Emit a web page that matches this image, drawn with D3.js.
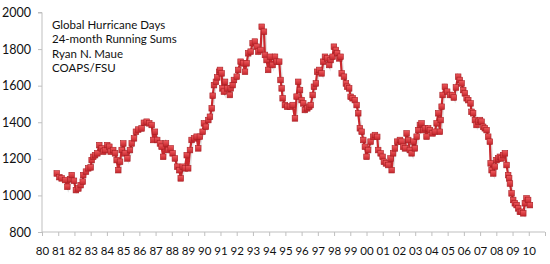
<!DOCTYPE html>
<html>
<head>
<meta charset="utf-8">
<script src="https://cdn.jsdelivr.net/npm/d3@7"></script>
<style>
  body { margin: 0; background: #fff; }
  svg { display: block; }
</style>
</head>
<body>
<div id="app"></div>
<script>
// decimal year of each point
const years = [
  1980.91, 1981.07, 1981.21, 1981.42, 1981.56, 1981.73, 1981.83, 1981.97, 1982.09, 1982.24,
  1982.38, 1982.51, 1982.54, 1982.71, 1982.85, 1983.00, 1983.06, 1983.16, 1983.27, 1983.41,
  1983.53, 1983.68, 1983.78, 1983.88, 1984.02, 1984.15, 1984.23, 1984.39, 1984.50, 1984.60,
  1984.70, 1984.81, 1984.91, 1985.01, 1985.11, 1985.26, 1985.42, 1985.53, 1985.67, 1985.79,
  1985.93, 1986.14, 1986.28, 1986.45, 1986.61, 1986.76, 1986.86, 1986.96, 1987.10, 1987.27,
  1987.37, 1987.47, 1987.64, 1987.78, 1987.93, 1988.05, 1988.19, 1988.34, 1988.46, 1988.55,
  1988.67, 1988.81, 1988.92, 1989.01, 1989.12, 1989.22, 1989.37, 1989.53, 1989.63, 1989.73,
  1989.90, 1989.98, 1990.10, 1990.25, 1990.35, 1990.46, 1990.52, 1990.60, 1990.72, 1990.80,
  1990.92, 1990.97, 1991.07, 1991.12, 1991.21, 1991.28, 1991.42, 1991.58, 1991.63, 1991.75,
  1991.83, 1992.00, 1992.09, 1992.24, 1992.40, 1992.51, 1992.61, 1992.71, 1992.86, 1992.98,
  1993.12, 1993.23, 1993.33, 1993.47, 1993.54, 1993.68, 1993.74, 1993.84, 1993.94, 1994.05,
  1994.21, 1994.36, 1994.46, 1994.62, 1994.70, 1994.77, 1994.83, 1994.97, 1995.11, 1995.28,
  1995.45, 1995.59, 1995.69, 1995.79, 1995.90, 1996.00, 1996.10, 1996.20, 1996.35, 1996.47,
  1996.56, 1996.68, 1996.76, 1996.88, 1996.96, 1997.09, 1997.23, 1997.33, 1997.44, 1997.58,
  1997.70, 1997.79, 1997.91, 1997.99, 1998.11, 1998.19, 1998.32, 1998.40, 1998.47, 1998.61,
  1998.73, 1998.81, 1998.93, 1999.02, 1999.14, 1999.28, 1999.39, 1999.49, 1999.59, 1999.70,
  1999.80, 1999.90, 2000.00, 2000.10, 2000.25, 2000.41, 2000.52, 2000.66, 2000.72, 2000.87,
  2000.99, 2001.07, 2001.20, 2001.34, 2001.48, 2001.55, 2001.64, 2001.75, 2001.89, 2002.06,
  2002.16, 2002.26, 2002.37, 2002.47, 2002.57, 2002.67, 2002.78, 2002.88, 2002.98, 2003.09,
  2003.19, 2003.29, 2003.39, 2003.49, 2003.60, 2003.70, 2003.80, 2003.91, 2004.07, 2004.21,
  2004.32, 2004.42, 2004.52, 2004.57, 2004.63, 2004.69, 2004.83, 2004.97, 2005.14, 2005.30,
  2005.38, 2005.51, 2005.65, 2005.75, 2005.86, 2005.96, 2006.06, 2006.17, 2006.27, 2006.41,
  2006.47, 2006.57, 2006.68, 2006.78, 2006.88, 2006.99, 2007.09, 2007.19, 2007.29, 2007.40,
  2007.50, 2007.60, 2007.65, 2007.71, 2007.81, 2007.91, 2008.01, 2008.11, 2008.22, 2008.32,
  2008.42, 2008.53, 2008.63, 2008.73, 2008.79, 2008.84, 2008.94, 2009.04, 2009.14, 2009.25,
  2009.35, 2009.45, 2009.56, 2009.66, 2009.76, 2009.86, 2009.96, 2010.07
];

// 24-month running sums of global hurricane days
const hurricaneDays = [
  1120, 1100, 1093, 1084, 1047, 1088, 1111, 1080, 1029, 1038,
  1056, 1075, 1111, 1130, 1148, 1153, 1193, 1211, 1220, 1230,
  1275, 1257, 1239, 1248, 1275, 1266, 1239, 1248, 1230, 1193,
  1138, 1184, 1248, 1284, 1230, 1202, 1248, 1284, 1312, 1348,
  1360, 1366, 1397, 1403, 1394, 1385, 1303, 1348, 1303, 1284,
  1266, 1211, 1284, 1248, 1257, 1230, 1202, 1157, 1138, 1093,
  1157, 1148, 1220, 1148, 1248, 1303, 1312, 1321, 1257, 1321,
  1348, 1394, 1375, 1412, 1430, 1476, 1545, 1603, 1621, 1645,
  1676, 1686, 1667, 1585, 1567, 1621, 1585, 1549, 1585, 1603,
  1631, 1649, 1686, 1731, 1722, 1676, 1722, 1777, 1786, 1832,
  1841, 1813, 1786, 1795, 1922, 1895, 1768, 1740, 1686, 1758,
  1713, 1758, 1731, 1731, 1631, 1585, 1531, 1494, 1485, 1485,
  1494, 1421, 1540, 1621, 1576, 1521, 1503, 1467, 1476, 1485,
  1494, 1549, 1594, 1612, 1676, 1686, 1667, 1731, 1758, 1749,
  1713, 1740, 1758, 1813, 1795, 1777, 1749, 1758, 1667, 1649,
  1612, 1594, 1585, 1539, 1531, 1521, 1494, 1449, 1367, 1348,
  1303, 1266, 1211, 1248, 1294, 1321, 1330, 1320, 1248, 1230,
  1211, 1184, 1175, 1166, 1202, 1138, 1230, 1257, 1294, 1303,
  1294, 1266, 1257, 1339, 1303, 1248, 1230, 1294, 1257, 1321,
  1357, 1385, 1394, 1357, 1367, 1321, 1367, 1357, 1339, 1348,
  1394, 1449, 1348, 1412, 1485, 1549, 1594, 1567, 1549, 1549,
  1535, 1590, 1649, 1631, 1612, 1576, 1558, 1531, 1521, 1503,
  1457, 1449, 1412, 1385, 1403, 1412, 1403, 1375, 1367, 1357,
  1321, 1294, 1175, 1138, 1120, 1157, 1193, 1202, 1211, 1202,
  1220, 1230, 1166, 1111, 1093, 1065, 1011, 975, 957, 947,
  929, 910, 910, 902, 957, 984, 975, 947
];

const yTicks = [800, 1000, 1200, 1400, 1600, 1800, 2000];
const xTicks = d3.range(1980, 2012);
const titleLines = ["Global Hurricane Days", "24-month Running Sums", "Ryan N. Maue", "COAPS/FSU"];

const width = 550,
  height = 264;

const svg = d3.select("div#app")
  .append("svg")
  .attr("width", width)
  .attr("height", height);

const x = d3.scaleLinear()
  .domain([1980, 2011])
  .range([42, 545]);

const y = d3.scaleLinear()
  .domain([800, 2000])
  .range([232, 12.5]);

const axisColor = "#bfbfbf";
const fontFamily = "Lato, 'Open Sans', sans-serif";

// y axis
const yAxis = svg.append("g")
  .attr("transform", "translate(42,0)")
  .call(d3.axisLeft(y).tickValues(yTicks).tickSize(4).tickPadding(7).tickFormat(d3.format("d")));
yAxis.select(".domain").attr("stroke", axisColor).attr("d", `M-4,${y(2000)}H0V${y(800)}`);
yAxis.selectAll(".tick line").attr("stroke", axisColor);
yAxis.selectAll(".tick text")
  .attr("fill", "#111")
  .style("font-family", fontFamily)
  .style("font-size", "12.5px");

// x axis
const xAxis = svg.append("g")
  .attr("transform", `translate(0,${y(800)})`)
  .call(d3.axisBottom(x)
    .tickValues(xTicks)
    .tickSize(4)
    .tickPadding(11)
    .tickFormat(d => d <= 2010 ? String(d % 100).padStart(2, "0") : ""));
xAxis.select(".domain").attr("stroke", axisColor).attr("d", `M${x(1980)},0H${x(2011)}`);
xAxis.selectAll(".tick line").attr("stroke", axisColor);
xAxis.selectAll(".tick text")
  .attr("fill", "#111")
  .style("font-family", fontFamily)
  .style("font-size", "11.5px");

// title block
svg.append("g")
  .selectAll("text")
  .data(titleLines)
  .join("text")
  .attr("x", 52)
  .attr("y", (d, i) => 29 + i * 14.4)
  .attr("fill", "#111")
  .style("font-family", fontFamily)
  .style("font-size", "11.5px")
  .text(d => d);

const data = years.map((yr, i) => ({ year: yr, value: hurricaneDays[i] }));

const defs = svg.append("defs");
const grad = defs.append("linearGradient")
  .attr("id", "marker-fill")
  .attr("x1", "0%").attr("y1", "0%")
  .attr("x2", "0%").attr("y2", "100%");
grad.append("stop").attr("offset", "0%").style("stop-color", "#ef5a5e");
grad.append("stop").attr("offset", "100%").style("stop-color", "#c4262c");

const line = d3.line()
  .x(d => x(d.year))
  .y(d => y(d.value));

// soft shadow under the series
svg.append("path")
  .datum(data)
  .attr("d", line)
  .attr("transform", "translate(1,1.5)")
  .style("fill", "none")
  .style("stroke", "#c8c8c8")
  .style("stroke-width", 3)
  .style("opacity", 0.5);

svg.append("path")
  .datum(data)
  .attr("d", line)
  .style("fill", "none")
  .style("stroke", "#c9282d")
  .style("stroke-width", 2.2);

svg.append("g")
  .selectAll("rect")
  .data(data)
  .join("rect")
  .attr("x", d => x(d.year) - 2.8)
  .attr("y", d => y(d.value) - 2.8)
  .attr("width", 5.6)
  .attr("height", 5.6)
  .style("fill", "url(#marker-fill)")
  .style("stroke", "#a81f24")
  .style("stroke-width", 0.6);
</script>
</body>
</html>
